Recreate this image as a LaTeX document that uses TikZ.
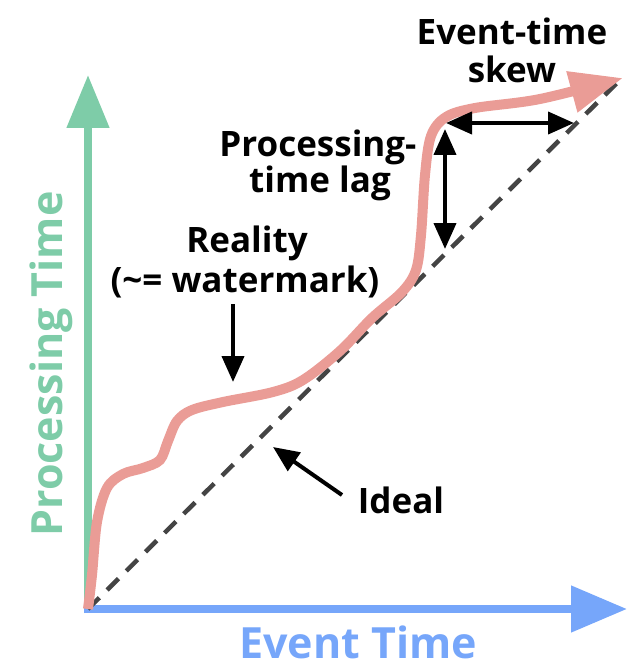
\documentclass[tikz,border=0pt]{standalone}
\usepackage{fontspec}
\setmainfont{Open Sans}
\usetikzlibrary{arrows.meta}
\definecolor{axgreen}{RGB}{126,204,168}
\definecolor{axblue}{RGB}{118,166,250}
\definecolor{curvepink}{RGB}{234,156,150}
\definecolor{dashgray}{RGB}{68,68,68}
\tikzset{
  lbl/.style={anchor=base, font=\fontsize{35}{40}\selectfont\bfseries, text=black, inner sep=0pt},
  axlbl/.style={anchor=base, font=\fontsize{43}{48}\selectfont\bfseries, inner sep=0pt},
  blackarrow/.style={draw=black, line width=4pt, -{Triangle[length=26pt,width=22pt]}},
  dblarrow/.style={draw=black, line width=4pt, {Triangle[length=26pt,width=22pt]}-{Triangle[length=26pt,width=22pt]}},
  idealline/.style={draw=dashgray, line width=4.5pt, dash pattern=on 16pt off 11pt},
}
\begin{document}
\begin{tikzpicture}[x=1pt,y=-1pt]
\useasboundingbox (0,0) rectangle (639,668);
% coordinates
\coordinate (O) at (88,609);
\coordinate (ytip) at (88,75);
\coordinate (xtip) at (627,609);
\coordinate (top) at (623,77);
% axes
\draw[axgreen, line width=8pt, -{Triangle[length=53pt,width=41pt]}] (88,613) -- (ytip);
\draw[axblue, line width=8pt, -{Triangle[length=56pt,width=45pt]}] (84,609) -- (xtip);
% ideal dashed line
\draw[idealline] (O) -- (top);
% reality curve
\draw[curvepink, line width=10pt, line cap=butt, -{Triangle[length=53pt,width=40pt]}]
  plot[smooth, tension=0.55] coordinates {
  (88,609) (92,575) (97,522) (107,488) (123,474) (143,468) (160,460) (168,441)
  (177,421) (192,410) (223,402) (273,392) (303,380) (340,351) (372,318)
  (402,292) (416,270) (421,235) (425,175) (431,136) (446,117)
  (475,108) (540,99) (623,78)};
% labels
\node[lbl] (skewA) at (512,45) {Event-time};
\node[lbl] (skewB) at (512,83) {skew};
\node[lbl] (lagA) at (318,157) {Processing-};
\node[lbl] (lagB) at (320,193) {time lag};
\node[lbl] (realA) at (247,252) {Reality};
\node[lbl] (realB) at (245,292) {(\symbol{"7E}= watermark)};
\node[lbl] (ideal) at (401,513) {Ideal};
\node[axlbl, text=axblue] (xlab) at (358,658) {Event Time};
\node[axlbl, text=axgreen, rotate=90] (ylab) at (62,364) {Processing Time};
% arrows
\coordinate (realtail) at (233,304);
\coordinate (realtip) at (233,382);
\draw[blackarrow] (realtail) -- (realtip);
\coordinate (idealtail) at (342,495);
\coordinate (idealtip) at (273,447);
\draw[blackarrow] (idealtail) -- (idealtip);
\coordinate (skewL) at (446,123);
\coordinate (skewR) at (574,123);
\draw[dblarrow] (skewL) -- (skewR);
\coordinate (lagT) at (445,129);
\coordinate (lagB2) at (445,249);
\draw[dblarrow] (lagT) -- (lagB2);
\end{tikzpicture}
\end{document}
